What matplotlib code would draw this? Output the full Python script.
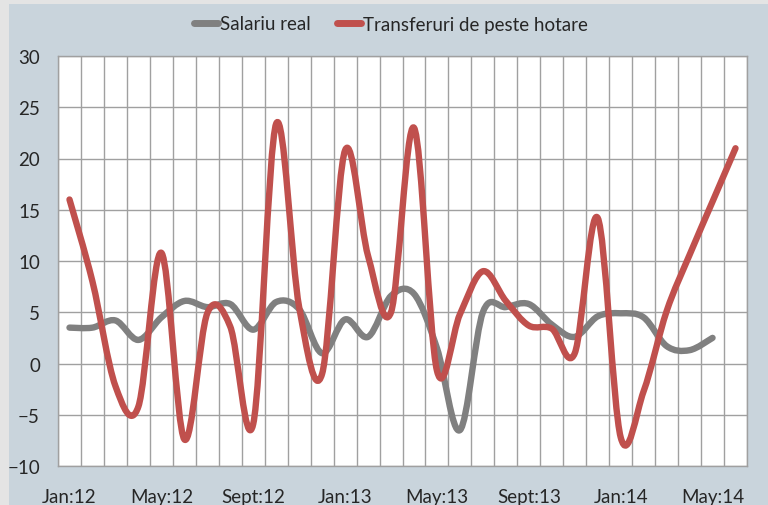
import numpy as np
import matplotlib
matplotlib.use("Agg")
import matplotlib.pyplot as plt
from matplotlib.path import Path
from matplotlib.patches import PathPatch, Rectangle
from matplotlib.lines import Line2D

# monthly categories Jan:12 .. Jun:14
months = ["Jan", "Feb", "Mar", "Apr", "May", "Jun",
          "Jul", "Aug", "Sept", "Oct", "Nov", "Dec"]
labels = [f"{months[i % 12]}:{12 + i // 12}" for i in range(30)]

salariu_real = [3.5, 3.5, 4.2, 2.3, 4.5, 6.1, 5.5, 5.8, 3.3, 6.0,
                5.3, 1.0, 4.3, 2.6, 6.6, 6.8, 1.5, -6.5, 5.0, 5.5,
                5.8, 3.8, 2.6, 4.6, 4.9, 4.5, 1.7, 1.3, 2.5]
transferuri = [16.0, 8.0, -2.2, -4.2, 10.8, -7.4, 4.9, 3.6, -5.9, 23.4,
               5.5, -1.0, 20.8, 10.5, 5.0, 23.0, -0.7, 4.8, 9.0, 6.1,
               3.7, 3.4, 1.0, 14.2, -7.2, -2.7, 5.1, 10.6, 15.8, 21.0]

plt.rcParams["font.family"] = ["Lato", "DejaVu Sans"]

BG = "#C9D4DC"
GRID = "#A0A0A0"
GRAY = "#808080"
RED = "#C0504D"


def smooth_path(values):
    # Excel style smoothed line: cubic Bezier through each point
    pts = np.column_stack([np.arange(len(values)), values]).astype(float)
    n = len(pts)
    verts = [pts[0]]
    codes = [Path.MOVETO]
    for i in range(n - 1):
        p0 = pts[i - 1] if i > 0 else pts[i]
        p1, p2 = pts[i], pts[i + 1]
        p3 = pts[i + 2] if i + 2 < n else pts[i + 1]
        verts += [p1 + (p2 - p0) / 6, p2 - (p3 - p1) / 6, p2]
        codes += [Path.CURVE4] * 3
    return Path(verts, codes)


fig = plt.figure(figsize=(7.68, 5.06), dpi=100, facecolor=BG)
# light frame strips at top and left, as in the screenshot
fig.patches.append(Rectangle((0, 0), 9 / 768, 1, transform=fig.transFigure,
                             facecolor="#E4E4E4", edgecolor="none", zorder=0))
fig.patches.append(Rectangle((0, 1 - 5 / 506), 1, 5 / 506, transform=fig.transFigure,
                             facecolor="#E4E4E4", edgecolor="none", zorder=0))

ax = fig.add_axes([58 / 768, 1 - 467 / 506, (747 - 58) / 768, (467 - 57) / 506])
ax.set_facecolor("white")

ax.add_patch(PathPatch(smooth_path(salariu_real), facecolor="none", edgecolor=GRAY,
                       lw=4.6, capstyle="round", joinstyle="round", zorder=3))
ax.add_patch(PathPatch(smooth_path(transferuri), facecolor="none", edgecolor=RED,
                       lw=4.6, capstyle="round", joinstyle="round", zorder=4))

ax.set_xlim(-0.5, len(labels) - 0.5)
ax.set_ylim(-10, 30)
ax.set_yticks(range(-10, 31, 5))
ax.set_xticks(range(0, len(labels), 4))
ax.set_xticklabels(labels[::4])
ax.set_xticks(np.arange(-0.5, len(labels), 1), minor=True)

ax.grid(True, which="minor", axis="x", color=GRID, linewidth=1.0)
ax.grid(True, which="major", axis="y", color=GRID, linewidth=1.0)
ax.set_axisbelow(True)
for s in ax.spines.values():
    s.set_color(GRID)
    s.set_linewidth(1.0)

ax.tick_params(axis="both", which="both", length=0, labelsize=13.5, colors="#262626")
ax.tick_params(axis="y", pad=13)
ax.tick_params(axis="x", pad=16)

handles = [Line2D([], [], color=GRAY, lw=5, solid_capstyle="round"),
           Line2D([], [], color=RED, lw=5, solid_capstyle="round")]
fig.legend(handles, ["Salariu real", "Transferuri de peste hotare"],
           loc="center", bbox_to_anchor=(0.509, 1 - 25 / 506), ncol=2,
           frameon=False, fontsize=13.5, handlelength=1.3, handletextpad=0.1,
           columnspacing=1.4, labelcolor="#262626")

fig.savefig("out.png", dpi=100, facecolor=BG)
